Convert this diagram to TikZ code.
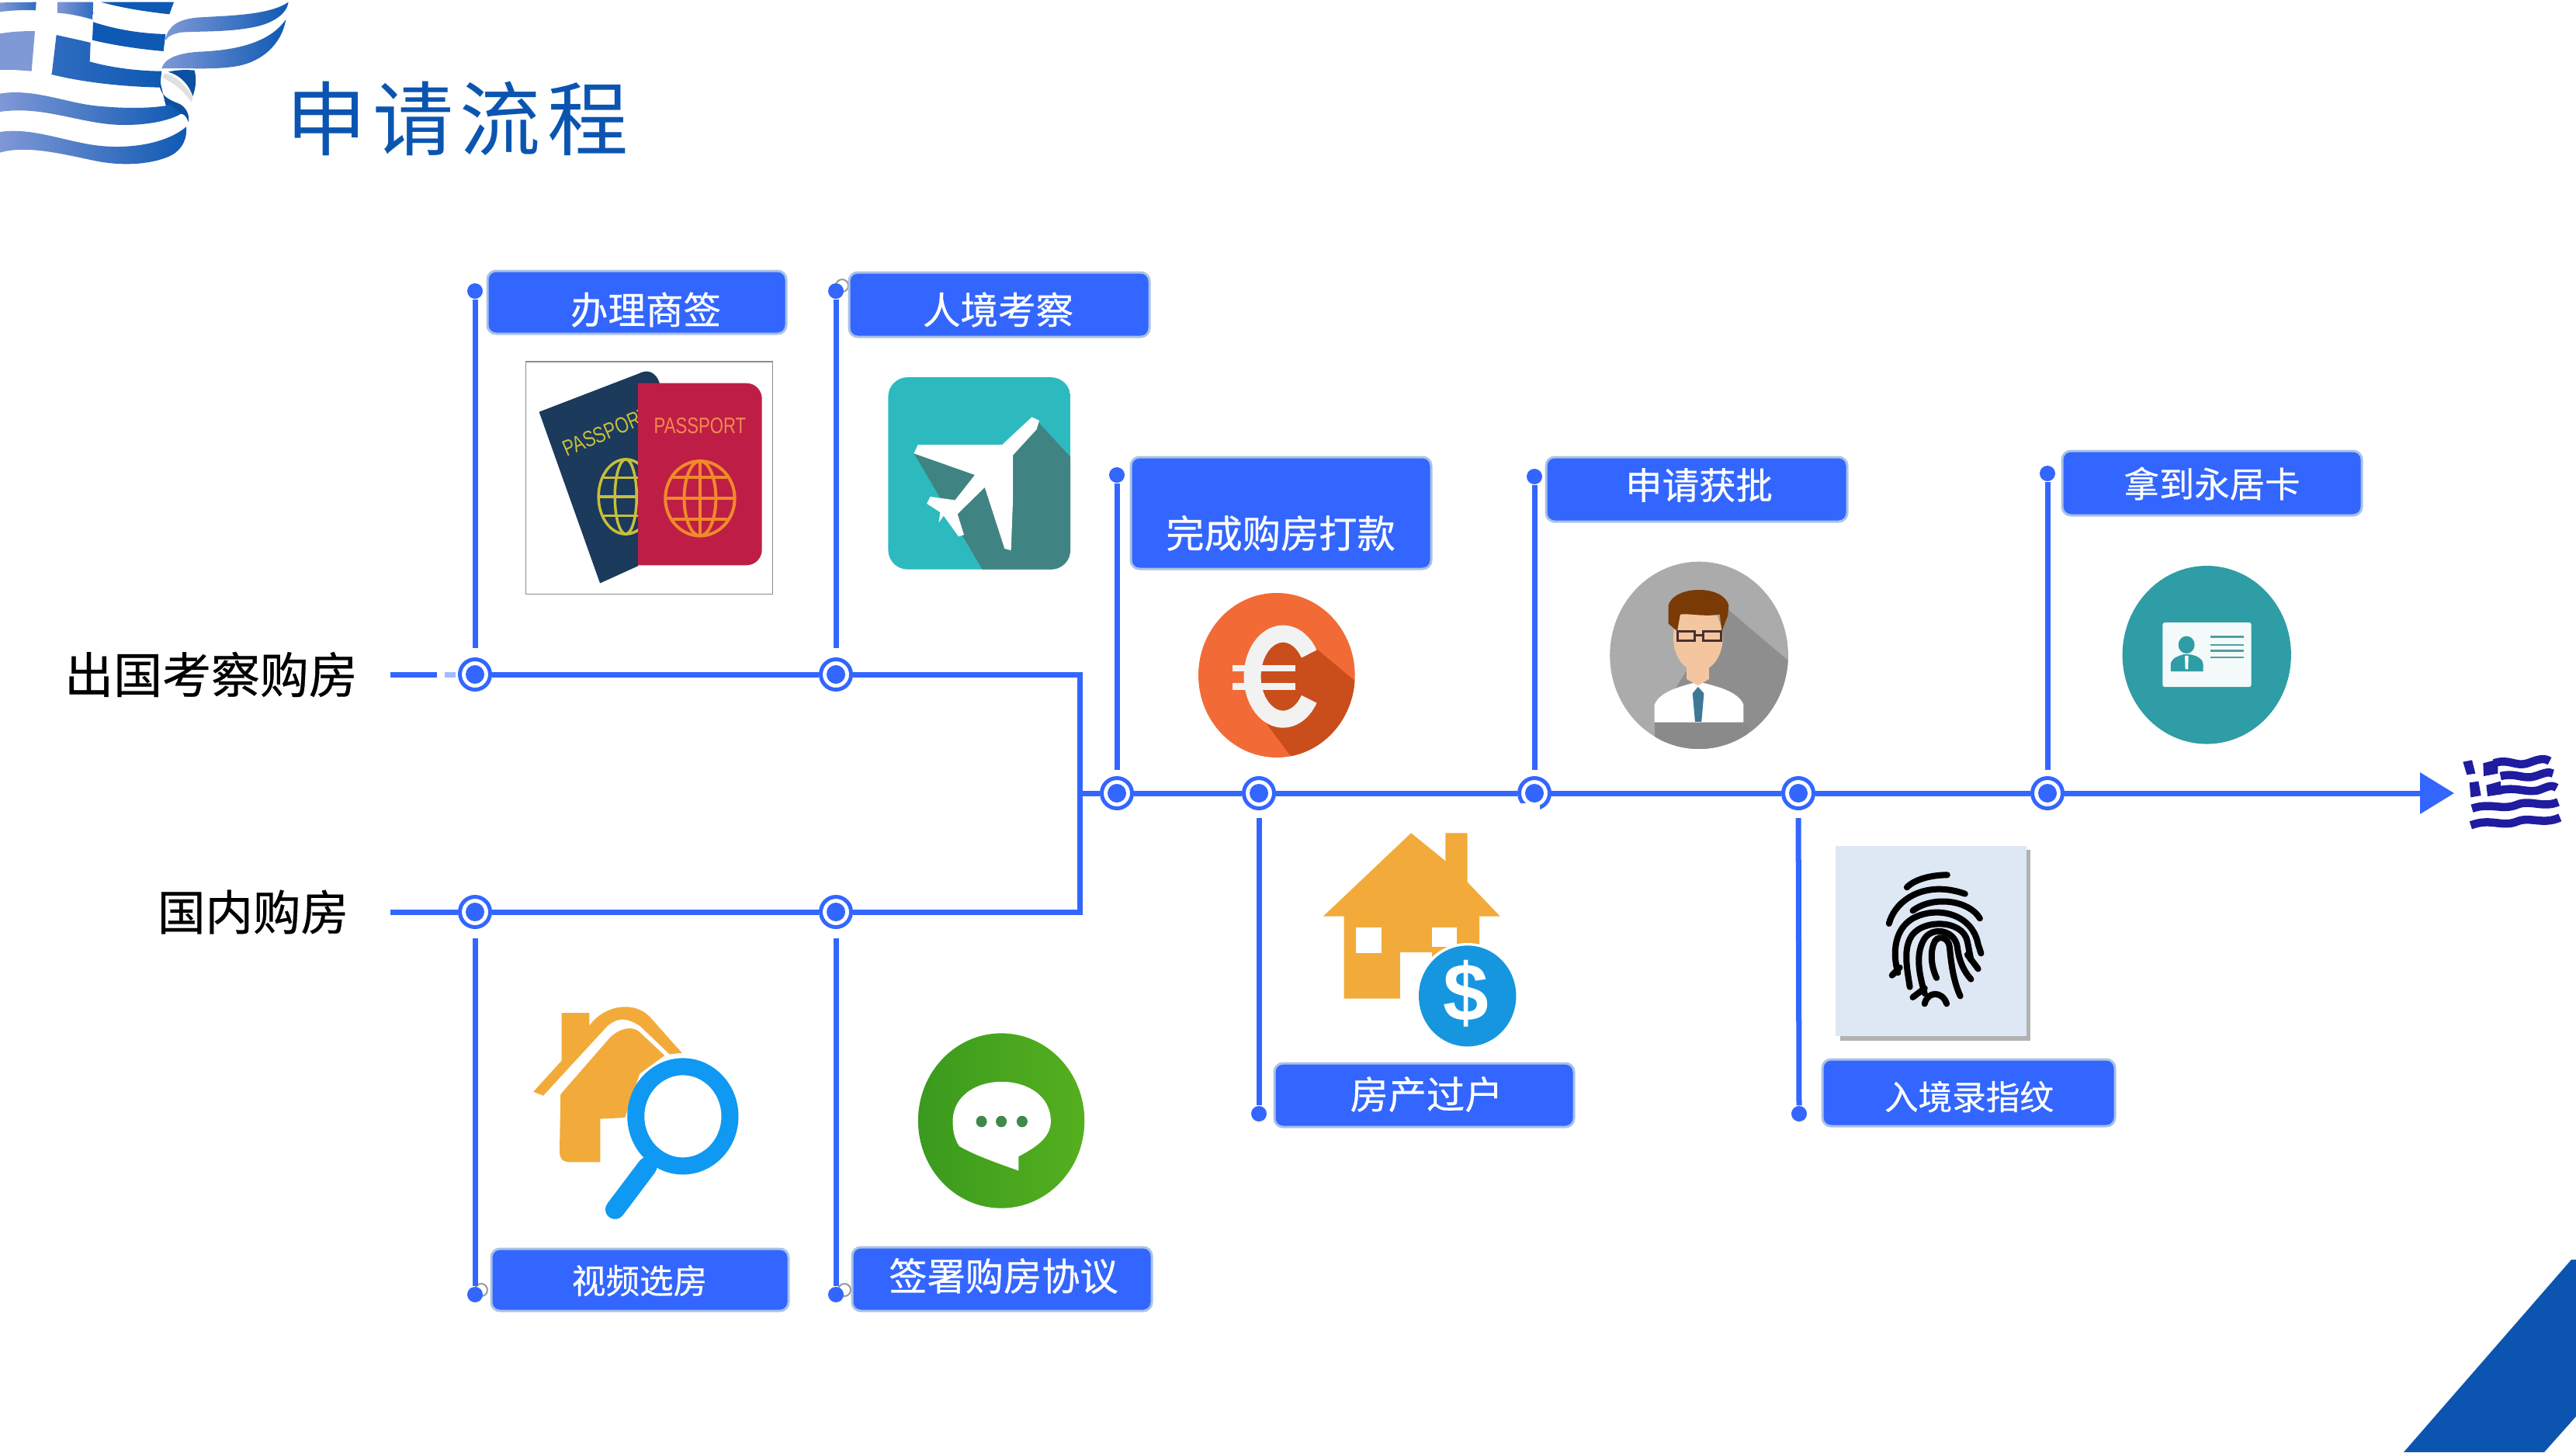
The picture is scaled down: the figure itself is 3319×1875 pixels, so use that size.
\documentclass[tikz,border=0pt]{standalone}
\usepackage{fontspec}
\usepackage{graphicx}
\usetikzlibrary{arrows.meta,calc}
\newfontfamily\cjk{Noto Sans CJK SC}
\newfontfamily\cjkh[FakeBold=0.5]{Noto Sans CJK SC}
\newfontfamily\latf{Liberation Sans}
\definecolor{lineblue}{HTML}{3366FF}
\definecolor{titleblue}{HTML}{0B55B0}
\definecolor{edgeblue}{HTML}{A9C2E6}
\definecolor{flagA}{HTML}{7F98D6}
\definecolor{flagM}{HTML}{2F6CC0}
\definecolor{flagB}{HTML}{0E59B3}
\definecolor{orng}{HTML}{F2AB3A}
\definecolor{navy}{HTML}{1F1CA0}
\definecolor{pbl}{HTML}{1B3A5C}
\definecolor{prd}{HTML}{BE1E45}
\definecolor{tl}{HTML}{2CBABF}
\definecolor{tld}{HTML}{3F8482}
\definecolor{eu}{HTML}{F26B36}
\definecolor{eud}{HTML}{C94E1C}
\definecolor{mg}{HTML}{ABABAB}
\definecolor{md}{HTML}{8E8E8E}
\definecolor{mb}{HTML}{8A8A8A}
\definecolor{skin}{HTML}{F3C6A0}
\definecolor{tiec}{HTML}{3F7896}
\definecolor{hair}{HTML}{7A3A06}
\definecolor{gls}{HTML}{4A3030}
\definecolor{idc}{HTML}{2F9DA5}
\definecolor{idw}{HTML}{F4FAFA}
\definecolor{idl}{HTML}{4FA0A2}
\definecolor{magc}{HTML}{0F99F2}
\definecolor{grL}{HTML}{3A9A1E}
\definecolor{grR}{HTML}{55B01E}
\definecolor{dotc}{HTML}{3E8A4A}
\definecolor{usdc}{HTML}{1796E0}
\definecolor{pale}{HTML}{DEE8F4}
\definecolor{passy}{HTML}{C8BE3C}
\definecolor{passo}{HTML}{F08A2A}
\definecolor{passt}{HTML}{F2894D}
\tikzset{
  conn/.style={draw=lineblue,line width=0.07cm},
  ring/.style={circle,draw=lineblue,line width=0.05cm,fill=white,minimum size=0.39cm,inner sep=0pt},
  core/.style={circle,fill=lineblue,minimum size=0.24cm,inner sep=0pt},
  enddot/.style={circle,fill=lineblue,minimum size=0.2cm,inner sep=0pt},
  tagbox/.style={fill=lineblue,draw=edgeblue,line width=0.03cm,rounded corners=0.11cm,inner sep=0pt},
  tagtext/.style={text=white,inner sep=0pt,font=\cjkh\fontsize{#1}{#1}\selectfont},
  sidetext/.style={text=black,inner sep=0pt,font=\cjkh\fontsize{#1}{#1}\selectfont},
  fl/.style={left color=flagA,middle color=flagM,right color=flagB},
  handle/.style={draw=black!40,line width=0.02cm},
}
\newcommand{\milestone}[3]{\node[ring] (#1) at (#2,#3) {};\node[core] (#1c) at (#1) {};}
\newcommand{\tagb}[5]{\path[tagbox] (#2,#3) rectangle (#4,#5);\coordinate (#1) at ($(#2,#3)!0.5!(#4,#5)$);}
\begin{document}
\begin{tikzpicture}[x=0.01cm,y=-0.01cm]
\useasboundingbox (0,0) rectangle (3319,1875);
\fill[white] (0,0) rectangle (3319,1875);

% corner
\fill[titleblue] (3097,1871) -- (3313,1623) -- (3319,1623) -- (3319,1825) -- (3278,1871) -- cycle;

% big flag (coordinates of a 3x crop)
\begin{scope}[xscale=0.3333,yscale=0.3333]
\shade[left color=flagA,right color=flagM] (0,10) -- (140,8) -- (138,40) .. controls (90,38) and (40,40) .. (0,46) -- cycle;
\shade[left color=flagA,right color=flagM] (222,8) -- (360,8) -- (357,75) .. controls (310,62) and (265,52) .. (222,50) -- cycle;
\fill[flagB] (390,8) -- (672,8) -- (655,55) .. controls (560,45) and (470,30) .. (390,8) -- cycle;
\fill[flagB] (360,85) .. controls (450,115) and (550,130) .. (640,132) -- (632,198) .. controls (540,190) and (440,175) .. (357,155) -- cycle;
\fill[flagA] (0,130) .. controls (45,122) and (95,120) .. (135,120) -- (122,275) .. controls (80,272) and (40,268) .. (0,270) -- cycle;
\shade[left color=flagM,right color=flagB] (218,135) .. controls (260,145) and (310,155) .. (350,165) -- (347,238) .. controls (430,262) and (540,275) .. (625,275) -- (618,338) .. controls (480,335) and (330,320) .. (200,288) -- cycle;
\shade[fl] (640,150) .. controls (650,100) and (690,75) .. (760,68) .. controls (880,60) and (1040,60) .. (1115,8) .. controls (1110,50) and (1060,90) .. (980,105) .. controls (880,125) and (770,120) .. (700,125) .. controls (670,130) and (650,140) .. (640,155) -- cycle;
\shade[fl] (625,265) .. controls (635,225) and (690,205) .. (770,200) .. controls (900,195) and (1040,170) .. (1105,75) .. controls (1090,170) and (1010,245) .. (900,258) .. controls (820,270) and (720,262) .. (625,265) -- cycle;
\fill[flagB!90!black] (650,278) .. controls (690,268) and (730,270) .. (752,272) .. controls (762,310) and (755,345) .. (745,372) .. controls (730,325) and (695,290) .. (650,278) -- cycle;
\fill[flagB!90!black] (618,310) .. controls (610,365) and (650,385) .. (690,400) .. controls (715,410) and (735,440) .. (728,472) .. controls (722,450) and (710,440) .. (700,440) -- (640,405) -- cycle;
\fill[black!12!white] (636,285) .. controls (670,285) and (725,335) .. (745,375) -- (740,395) .. controls (710,350) and (670,320) .. (628,300) -- cycle;
\shade[fl] (0,362) .. controls (130,340) and (260,400) .. (380,410) .. controls (480,420) and (590,420) .. (660,405) -- (700,440) .. controls (640,475) and (520,490) .. (420,480) .. controls (280,465) and (150,410) .. (0,432) -- cycle;
\shade[fl] (0,510) .. controls (130,490) and (270,555) .. (400,565) .. controls (520,575) and (650,550) .. (720,490) .. controls (725,540) and (700,590) .. (640,610) .. controls (560,640) and (450,640) .. (360,620) .. controls (240,595) and (100,560) .. (0,590) -- cycle;
\end{scope}

% title
\node[inner sep=0pt,text=titleblue,font=\cjk\fontsize{29.6pt}{31pt}\selectfont] (title) at (589,153) {申\kern0.08cm 请\kern0.08cm 流\kern0.08cm 程};

% side labels
\node[sidetext=17.9pt] (lab1) at (272,869) {出国考察购房};
\node[sidetext=17.5pt] (lab2) at (326,1175) {国内购房};

% handle artefacts beside three end dots
\draw[handle] (1085,368) circle [radius=8];
\draw[handle] (620,1662) circle [radius=8];
\draw[handle] (1088,1662) circle [radius=8];

% milestones
\milestone{a1}{612}{869}
\milestone{a2}{1077}{869}
\milestone{b1}{612}{1175}
\milestone{b2}{1077}{1175}
\milestone{m1}{1439}{1022}
\milestone{m2}{1622}{1022}
\milestone{m3}{1977}{1022}
\milestone{m4}{2317}{1022}
\milestone{m5}{2638}{1022}
\fill[white] (1955,1035) rectangle (1984,1050);

% end dots
\node[enddot] (da1) at (612,375) {};
\node[enddot] (da2) at (1077,375) {};
\node[enddot] (dm1) at (1439,612) {};
\node[enddot] (dm3) at (1977,614) {};
\node[enddot] (dm5) at (2638,610) {};
\node[enddot] (db1) at (612,1668) {};
\node[enddot] (db2) at (1077,1668) {};
\node[enddot] (dm2) at (1622,1435) {};
\node[enddot] (dm4) at (2318,1435) {};

% free ends
\coordinate (s1) at (503,869);
\coordinate (s1e) at (563,869);
\coordinate (s2) at (503,1175);
\coordinate (jt) at (1391,869);
\coordinate (jm) at (1391,1022);
\coordinate (jb) at (1391,1175);
\coordinate (tip) at (3162,1022);

% connectors
\draw[conn] (s1) -- (s1e);
\draw[draw=lineblue!45!white,line width=0.07cm] (573,869) -- (587,869);
\draw[conn] (s2) -- (b1);
\draw[conn] (a1) -- (a2);
\draw[conn] (b1) -- (b2);
\draw[conn,line join=miter] (a2) -- (jt) -- (jb) -- (b2);
\draw[conn] (jm) -- (m1);
\draw[conn] (m1) -- (m2);
\draw[conn] (m2) -- (m3);
\draw[conn] (m3) -- (m4);
\draw[conn] (m4) -- (m5);
\draw[conn,-{Triangle[length=0.44cm,width=0.52cm]}] (m5) -- (tip);
\draw[conn,shorten <=0.12cm] (a1) -- (da1);
\draw[conn,shorten <=0.12cm] (a2) -- (da2);
\draw[conn,shorten <=0.08cm] (m1) -- (dm1);
\draw[conn,shorten <=0.08cm] (m3) -- (dm3);
\draw[conn,shorten <=0.08cm] (m5) -- (dm5);
\draw[conn,shorten <=0.12cm] (b1) -- (db1);
\draw[conn,shorten <=0.12cm] (b2) -- (db2);
\draw[conn,shorten <=0.10cm] (m2) -- (dm2);
\draw[conn,shorten <=0.10cm] (m4) -- (dm4);

% tag boxes
\tagb{t1}{628}{349}{1013}{430}
\tagb{t2}{1094}{351}{1481}{434}
\tagb{t3}{1457}{589}{1844}{733}
\tagb{t4}{1992}{589}{2380}{672}
\tagb{t5}{2657}{581}{3043}{664}
\tagb{t6}{633}{1609}{1016}{1689}
\tagb{t7}{1098}{1607}{1484}{1689}
\tagb{t8}{1642}{1370}{2028}{1452}
\tagb{t9}{2348}{1365}{2725}{1451}
\node[tagtext=13.8pt] (x1) at (832,399) {办理商签};
\node[tagtext=13.8pt] (x2) at (1286,399) {人境考察};
\node[tagtext=14pt] (x3) at (1650,687) {完成购房打款};
\node[tagtext=13.5pt] (x4) at (2189,625) {申请获批};
\node[tagtext=12.9pt] (x5) at (2850,623) {拿到永居卡};
\node[tagtext=12.4pt] (x6) at (824,1650) {视频选房};
\node[tagtext=14pt] (x7) at (1293,1644) {签署购房协议};
\node[tagtext=14pt] (x8) at (1838,1410) {房产过户};
\node[tagtext=12.4pt] (x9) at (2537,1413) {入境录指纹};

% passport + plane
\begin{scope}[shift={(500,330)},xscale=0.638,yscale=0.446]
\draw[black!45,line width=0.012cm] (278,305) rectangle (777,977);
\fill[pbl] (305,450) -- (505,340) .. controls (525,325) and (540,335) .. (548,365) -- (505,895) -- (428,945) -- cycle;
\node[inner sep=0pt,rotate=23,text=passy,font=\latf\fontsize{6.3pt}{7pt}\selectfont] (ppa) at (441,508) {\scalebox{1}[1.3]{PASSPORT}};
\begin{scope}[draw=passy,line width=0.035cm]
\draw (480,695) ellipse [x radius=55,y radius=108];
\draw (480,695) ellipse [x radius=22,y radius=108];
\draw (425,695) -- (535,695);
\draw (435,640) -- (525,640);
\draw (435,750) -- (525,750);
\end{scope}
\fill[prd] (505,367) [rounded corners=0.2cm] -- (755,367) -- (755,893) [sharp corners] -- (505,893) -- cycle;
\node[inner sep=0pt,text=passt,font=\latf\fontsize{6.3pt}{7pt}\selectfont] (ppb) at (630,490) {\scalebox{1}[1.3]{PASSPORT}};
\begin{scope}[draw=passo,line width=0.04cm]
\draw (630,700) ellipse [x radius=70,y radius=108];
\draw (630,700) ellipse [x radius=32,y radius=108];
\draw (630,592) -- (630,808);
\draw (560,700) -- (700,700);
\draw (575,640) -- (685,640);
\draw (575,760) -- (685,760);
\end{scope}
% plane
\begin{scope}
\path[clip,rounded corners=0.25cm] (1010,350) rectangle (1378,905);
\fill[tl] (1010,350) rectangle (1378,905);
\fill[tld] (1062,570) -- (1200,640) -- (1310,475) -- (1378,580) -- (1378,905) -- (1200,905) -- cycle;
\end{scope}
\fill[white] (1300,465) -- (1315,475) -- (1310,500) -- (1262,575) -- (1262,700) -- (1258,850) -- (1245,845) -- (1205,668) -- (1150,745) -- (1163,805) -- (1152,810) -- (1122,750) -- (1112,770) -- (1115,740) -- (1088,715) -- (1095,695) -- (1145,705) -- (1185,632) -- (1062,570) -- (1070,545) -- (1240,545) -- cycle;
\end{scope}

% euro + man
\begin{scope}[shift={(1500,550)},xscale=0.638,yscale=0.3333]
\begin{scope}
\path[clip] (227,960) ellipse [x radius=158,y radius=318];
\fill[eu] (60,630) rectangle (400,1290);
\fill[eud] (290,830) -- (390,990) -- (390,1290) -- (262,1290) -- (200,1130) -- cycle;
\end{scope}
\fill[eud] (240,965) ellipse [x radius=60,y radius=165];
\draw[white!95!black,line width=0.22cm] (240,965) ++(32:62 and 165) arc [start angle=32,end angle=328,x radius=62,y radius=165];
\fill[white!95!black] (138,920) rectangle (265,945);
\fill[white!95!black] (138,990) rectangle (265,1018);
% man
\begin{scope}
\path[clip] (1080,883) ellipse [x radius=180,y radius=362];
\fill[mg] (890,510) rectangle (1270,1260);
\fill[md] (1135,700) -- (1270,920) -- (1270,1260) -- (1000,1260) -- (990,1140) -- cycle;
\fill[mb] (990,1142) rectangle (1180,1260);
\end{scope}
\fill[white] (990,1142) -- (990,1075) .. controls (1000,1020) and (1050,1000) .. (1078,985) .. controls (1110,1000) and (1160,1020) .. (1170,1075) -- (1170,1142) -- cycle;
\fill[skin] (1055,900) -- (1100,900) -- (1100,975) -- (1078,1000) -- (1055,975) -- cycle;
\fill[skin] (1078,815) ellipse [x radius=50,y radius=130];
\fill[tiec] (1078,1005) -- (1090,1030) -- (1085,1140) -- (1072,1140) -- (1067,1030) -- cycle;
\fill[hair] (1036,790) -- (1018,760) -- (1018,690) .. controls (1030,610) and (1130,610) .. (1140,690) -- (1138,730) -- (1126,790) -- (1122,725) .. controls (1090,735) and (1060,720) .. (1042,725) -- cycle;
\draw[gls,line width=0.03cm] (1036,792) rectangle (1072,826);
\draw[gls,line width=0.03cm] (1088,792) rectangle (1124,826);
\draw[gls,line width=0.03cm] (1072,805) -- (1088,805);
\end{scope}

% id card
\begin{scope}[shift={(2500,550)},xscale=0.5224,yscale=0.351]
\fill[idc] (657,837) ellipse [x radius=208,y radius=327];
\fill[idw,rounded corners=0.03cm] (548,718) rectangle (767,955);
\fill[idc] (607,800) ellipse [x radius=20,y radius=32];
\fill[idc] (568,898) -- (568,870) .. controls (572,845) and (590,840) .. (600,835) -- (614,835) .. controls (630,840) and (645,845) .. (648,870) -- (648,898) -- cycle;
\fill[idw] (603,840) -- (612,840) -- (611,890) -- (604,890) -- cycle;
\draw[idl,line width=0.035cm] (667,770) -- (748,770);
\draw[idl,line width=0.025cm] (667,800) -- (748,800);
\draw[idl,line width=0.025cm] (667,822) -- (748,822);
\draw[idl,line width=0.025cm] (667,846) -- (748,846);
\end{scope}

% small flag
\begin{scope}[shift={(3150,950)},xscale=0.3333,yscale=0.3333]
\fill[navy] (70,95) -- (105,88) -- (118,140) -- (85,145) -- cycle;
\fill[navy] (95,175) -- (130,170) -- (140,225) -- (100,232) -- cycle;
\fill[navy] (148,100) -- (205,85) -- (205,140) -- (150,150) -- cycle;
\fill[navy] (160,185) -- (215,170) -- (220,220) -- (165,228) -- cycle;
\begin{scope}[draw=navy,line width=0.105cm]
\draw (190,100) .. controls (250,80) and (270,115) .. (320,100) .. controls (350,90) and (380,75) .. (405,92);
\draw (215,150) .. controls (280,135) and (300,165) .. (350,150) .. controls (380,140) and (400,130) .. (418,140);
\draw (210,205) .. controls (280,190) and (310,215) .. (360,205) .. controls (390,195) and (410,180) .. (432,195);
\draw (105,275) .. controls (180,250) and (220,285) .. (280,260) .. controls (330,240) and (380,275) .. (438,250);
\draw (100,340) .. controls (180,310) and (220,350) .. (280,325) .. controls (330,305) and (380,340) .. (445,310);
\end{scope}
\end{scope}

% magnifier house + chat
\begin{scope}[shift={(550,1250)},xscale=0.638,yscale=0.3333]
\fill[orng] (272,165) -- (328,165) -- (328,215) .. controls (360,130) and (420,120) .. (450,180) -- (515,320) -- (490,325) -- (430,215) .. controls (400,180) and (385,185) .. (365,215) -- (235,485) -- (215,470) -- (272,350) -- cycle;
\fill[orng] (270,480) -- (370,260) .. controls (395,215) and (420,220) .. (430,240) -- (480,330) -- (430,400) -- (400,570) -- (350,575) -- (350,742) -- (290,742) .. controls (270,742) and (268,720) .. (268,700) -- cycle;
\fill[white] (517,565) ellipse [x radius=95,y radius=190];
\draw[magc,line width=0.22cm] (517,565) ellipse [x radius=95,y radius=192];
\draw[magc,line width=0.25cm,line cap=round] (445,760) -- (380,925);
\shade[left color=grL,right color=grR] (1160,582) ellipse [x radius=168,y radius=338];
\fill[white] (1062,585) .. controls (1062,380) and (1260,380) .. (1260,585) .. controls (1260,650) and (1225,690) .. (1195,720) -- (1195,775) .. controls (1150,745) and (1100,710) .. (1075,680) .. controls (1065,650) and (1062,620) .. (1062,585) -- cycle;
\fill[dotc] (1120,585) ellipse [x radius=11,y radius=22];
\fill[dotc] (1160,585) ellipse [x radius=11,y radius=22];
\fill[dotc] (1202,585) ellipse [x radius=11,y radius=22];
\end{scope}

% house + fingerprint
\begin{scope}[shift={(1600,1020)},xscale=0.765,yscale=0.3333]
\fill[orng] (285,160) -- (343,268) -- (343,160) -- (380,160) -- (380,350) -- (435,482) -- (400,482) -- (400,600) -- (320,640) -- (267,620) -- (267,800) -- (172,800) -- (172,482) -- (137,482) -- cycle;
\fill[white] (192,525) rectangle (235,625);
\fill[white] (320,525) rectangle (362,600);
\fill[white] (267,620) rectangle (320,800);
\fill[white] (380,790) ellipse [x radius=88,y radius=205];
\fill[usdc] (380,790) ellipse [x radius=82,y radius=195];
\node[inner sep=0pt,text=white,font=\latf\bfseries\fontsize{30pt}{30pt}\selectfont] (usd) at (378,780) {\$};
% fingerprint
\fill[black!30] (1008,225) rectangle (1328,962);
\fill[pale] (1000,210) rectangle (1322,945);
\begin{scope}[draw=black,line width=0.08cm,line cap=round]
\draw (1120,370) .. controls (1135,335) and (1165,322) .. (1188,322);
\draw (1090,510) .. controls (1100,420) and (1150,340) .. (1218,395);
\draw (1130,460) .. controls (1165,400) and (1225,420) .. (1243,490);
\draw (1105,700) .. controls (1095,620) and (1100,530) .. (1130,490) .. controls (1170,440) and (1230,470) .. (1240,590) -- (1245,625);
\draw (1125,755) .. controls (1120,680) and (1115,620) .. (1125,570) .. controls (1140,490) and (1215,490) .. (1222,580) -- (1228,650);
\draw (1150,780) .. controls (1140,700) and (1135,630) .. (1148,575) .. controls (1160,520) and (1200,530) .. (1205,600) .. controls (1208,660) and (1218,700) .. (1228,725);
\draw (1170,720) .. controls (1160,670) and (1160,620) .. (1165,590) .. controls (1170,550) and (1190,560) .. (1192,600) .. controls (1195,680) and (1200,740) .. (1210,790);
\draw (1150,820) .. controls (1155,770) and (1180,770) .. (1187,820);
\draw (1095,710) -- (1108,680);
\draw (1222,630) -- (1240,685);
\draw (1130,795) -- (1150,760);
\end{scope}
\end{scope}
\end{tikzpicture}
\end{document}
